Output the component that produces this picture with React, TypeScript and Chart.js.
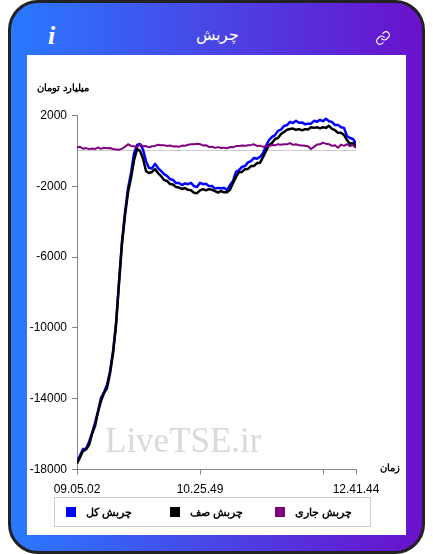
import React, { useEffect, useRef } from "react";
import { Chart, registerables } from "chart.js";

Chart.register(...registerables);

const TITLE = "چربش";
const Y_UNIT = "میلیارد تومان";
const X_UNIT = "زمان";
const WATERMARK = "LiveTSE.ir";
const FONT = '"Liberation Sans", Arial, sans-serif';

const yTicks = [2000, 0, -2000, -6000, -10000, -14000, -18000];
const xTicks = [0, 41, 82, 93];
const xTickLabels: Record<number, string> = { 0: "09.05.02", 41: "10.25.49", 93: "12.41.44" };

const totalName = "چربش کل";
const totalValues = [
  -17549, -17210, -16840, -16830, -16440, -15950, -15360, -14710, -13950, -13640, -13210, -12464,
  -11334, -9752, -7379, -5119, -3480, -2124, -1250, -147, 340, 390, 70, -580, -960, -990, -730, -970,
  -1130, -1310, -1410, -1590, -1640, -1820, -1810, -1930, -1840, -1880, -1810, -1990, -2040, -1800,
  -1880, -1860, -1990, -1980, -2130, -2090, -2110, -2090, -2210, -1930, -1700, -1180, -1090, -900,
  -860, -650, -580, -400, -440, -340, -130, 290, 610, 790, 890, 1130, 1200, 1410, 1460, 1640, 1570,
  1700, 1590, 1610, 1510, 1530, 1540, 1700, 1650, 1750, 1680, 1810, 1680, 1640, 1460, 1470, 1340,
  1300, 840, 730, 670, 418,
];

const zeroName = "چربش صف";
const zeroValues = [
  -17662, -17323, -16960, -16870, -16620, -16000, -15550, -14750, -14130, -13680, -13400, -12577,
  -11447, -9865, -7492, -5232, -3650, -2350, -1530, -542, 100, 0, -429, -1140, -1250, -1190, -1030,
  -1250, -1420, -1640, -1700, -1870, -1900, -2040, -2070, -2150, -2100, -2200, -2220, -2370, -2390,
  -2230, -2160, -2230, -2160, -2200, -2270, -2350, -2270, -2340, -2330, -2200, -1820, -1470, -1200,
  -1190, -1030, -1020, -860, -850, -690, -680, -350, 0, 330, 450, 670, 730, 950, 1070, 1200, 1240,
  1260, 1190, 1230, 1160, 1230, 1210, 1340, 1300, 1340, 1270, 1340, 1300, 1420, 1250, 1170, 1020,
  1030, 900, 610, 400, 440, 249,
];

const currentName = "چربش جاری";
const currentValues = [
  190, 230, 120, 160, 100, 130, 110, 190, 115, 175, 150, 165, 110, 85, 60, 130, 230, 380, 280, 260,
  200, 385, 260, 270, 200, 265, 280, 350, 315, 325, 280, 300, 255, 265, 230, 300, 285, 350, 370, 380,
  400, 385, 310, 320, 225, 240, 170, 215, 165, 185, 150, 215, 200, 270, 280, 300, 285, 320, 340, 370,
  280, 295, 230, 265, 280, 330, 315, 380, 345, 370, 370, 440, 340, 375, 315, 300, 285, 265, 105, 230,
  355, 370, 465, 400, 380, 285, 320, 180, 355, 285, 380, 270, 325, 170,
];

const toPoints = (values: number[]) => values.map((y, x) => ({ x, y }));

const overlay = {
  id: "overlay",
  beforeDatasetsDraw(chart: any) {
    const { ctx } = chart;
    ctx.save();
    ctx.fillStyle = "#d9d9dc";
    ctx.font = '35px "Liberation Serif", serif';
    ctx.textAlign = "left";
    ctx.textBaseline = "alphabetic";
    ctx.fillText(WATERMARK, 78, 397);
    ctx.restore();
  },
  afterDraw(chart: any) {
    const { ctx } = chart;
    ctx.save();
    ctx.fillStyle = "#000";
    ctx.direction = "rtl";
    ctx.textBaseline = "middle";
    ctx.textAlign = "center";
    ctx.font = `bold 10px ${FONT}`;
    ctx.fillText(Y_UNIT, 36, 33);
    ctx.fillText(X_UNIT, 363, 413);

    // legend
    ctx.strokeStyle = "#cccccc";
    ctx.lineWidth = 1;
    ctx.strokeRect(27.5, 442.5, 316, 29);
    const starts = [39, 143, 248];
    const textGap = [10, 10, 10];
    chart.data.datasets.forEach((ds: any, i: number) => {
      ctx.fillStyle = ds.borderColor;
      ctx.fillRect(starts[i], 452, 10, 10);
      ctx.fillStyle = "#000";
      ctx.font = `bold 11px ${FONT}`;
      ctx.direction = "rtl";
      ctx.textAlign = "right";
      const w = ctx.measureText(ds.label).width;
      ctx.fillText(ds.label, starts[i] + 10 + textGap[i] + w, 458);
    });
    ctx.restore();
  },
};

export default function App() {
  const ref = useRef<HTMLCanvasElement>(null);

  useEffect(() => {
    const chart = new Chart(ref.current!, {
      type: "line",
      data: {
        datasets: [
          { label: totalName, data: toPoints(totalValues), borderColor: "#0000ff", backgroundColor: "#0000ff", borderWidth: 2.5, pointRadius: 0, tension: 0, order: 3, borderJoinStyle: "round" },
          { label: zeroName, data: toPoints(zeroValues), borderColor: "#000000", backgroundColor: "#000000", borderWidth: 2.5, pointRadius: 0, tension: 0, order: 2, borderJoinStyle: "round" },
          { label: currentName, data: toPoints(currentValues), borderColor: "#800080", backgroundColor: "#800080", borderWidth: 2, pointRadius: 0, tension: 0, order: 1, borderJoinStyle: "round" },
        ],
      },
      options: {
        animation: false,
        responsive: false,
        devicePixelRatio: 1,
        layout: { padding: { left: 0, right: 50, top: 60.5, bottom: 36 } },
        plugins: { legend: { display: false }, tooltip: { enabled: false }, title: { display: false } },
        scales: {
          x: {
            type: "linear",
            min: 0,
            max: 93,
            afterBuildTicks: (s: any) => { s.ticks = xTicks.map((value) => ({ value })); },
            afterFit: (s: any) => { s.height = 29.5; },
            grid: { drawOnChartArea: false, tickLength: 5, color: "#868686" },
            border: { color: "#868686" },
            ticks: {
              autoSkip: false,
              maxRotation: 0,
              padding: 8,
              color: "#000",
              font: { family: FONT, size: 12 },
              callback: (v: any) => xTickLabels[v] ?? "",
            },
          },
          y: {
            min: -18000,
            max: 2000,
            afterBuildTicks: (s: any) => { s.ticks = yTicks.map((value) => ({ value })); },
            afterFit: (s: any) => { s.width = 50; },
            grid: {
              tickLength: 5,
              color: (c: any) => (c.tick?.value === 0 ? "#cccccc" : "transparent"),
              tickColor: (c: any) => (c.tick?.value === 0 ? "transparent" : "#868686"),
            },
            border: { color: "#868686" },
            ticks: {
              autoSkip: false,
              padding: 5,
              color: "#000",
              font: { family: FONT, size: 12 },
              callback: (v: any) => (v === 0 ? "" : String(v)),
            },
          },
        },
      },
      plugins: [overlay],
    } as any);
    return () => chart.destroy();
  }, []);

  return (
    <div style={{ position: "fixed", left: 0, top: 0, width: 433, height: 554, background: "#fff", overflow: "hidden" }}>
      <div
        style={{
          position: "absolute",
          left: 8,
          top: 0,
          width: 417,
          height: 554,
          boxSizing: "border-box",
          border: "3px solid #222",
          borderRadius: 30,
          background: "linear-gradient(to right, #2979ff, #6a11cb)",
        }}
      />
      <div style={{ position: "absolute", left: 27, top: 18, width: 379, height: 37, color: "#fff" }}>
        <span style={{ position: "absolute", left: 21, top: 3, fontFamily: '"Liberation Serif", serif', fontStyle: "italic", fontWeight: "bold", fontSize: 26, lineHeight: "30px" }}>i</span>
        <span style={{ position: "absolute", left: 0, width: 380, top: 3, textAlign: "center", fontFamily: '"DejaVu Sans ExtraLight", "DejaVu Sans Light", "Noto Sans", sans-serif', fontSize: 16, lineHeight: "28px" }}>{TITLE}</span>
        <svg style={{ position: "absolute", left: 348, top: 12 }} width="16" height="16" viewBox="0 0 24 24" fill="none" stroke="#fff" strokeWidth="1.7" strokeLinecap="round" strokeLinejoin="round">
          <path d="M10 13a5 5 0 0 0 7.5.5l3-3a5 5 0 0 0-7-7l-1.7 1.7" />
          <path d="M14 11a5 5 0 0 0-7.5-.5l-3 3a5 5 0 0 0 7 7l1.7-1.7" />
        </svg>
      </div>
      <div style={{ position: "absolute", left: 27, top: 55, width: 379, height: 480, background: "#fff" }}>
        <canvas ref={ref} width={379} height={480} style={{ display: "block" }} />
      </div>
    </div>
  );
}
